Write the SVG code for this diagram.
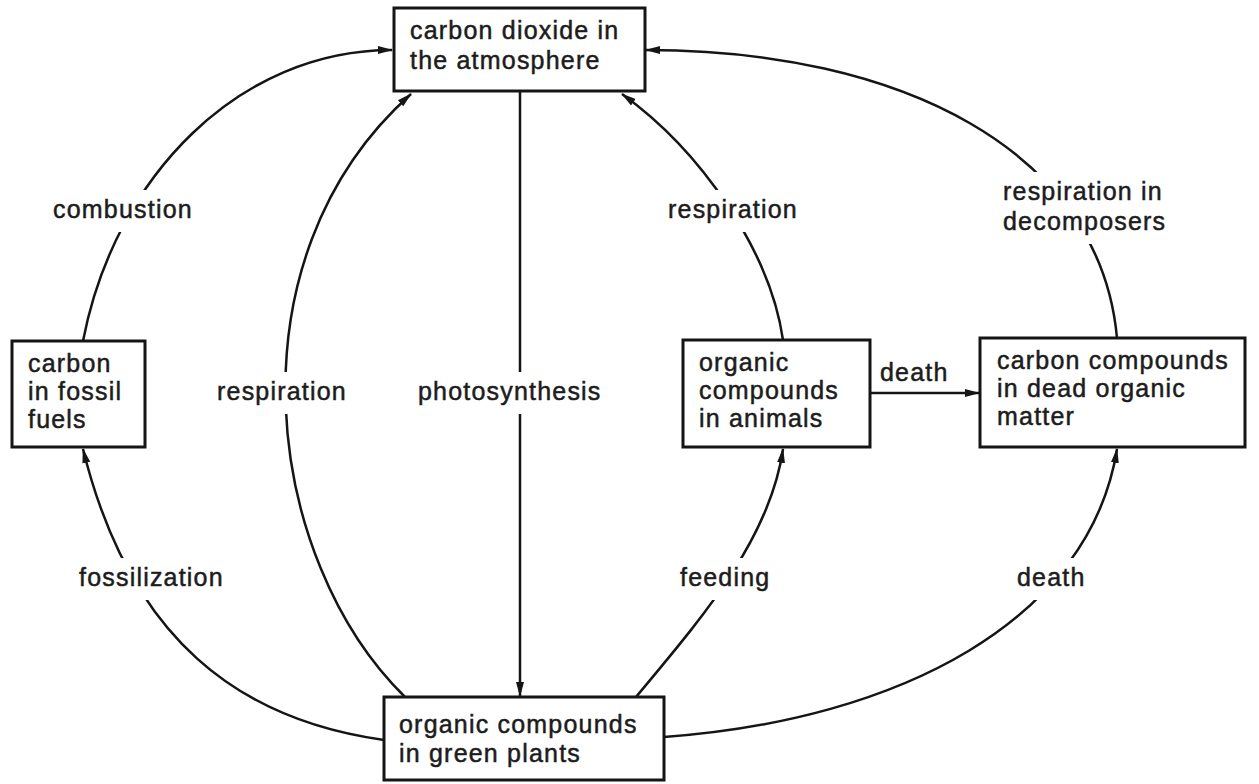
<svg xmlns="http://www.w3.org/2000/svg" width="1259" height="784" viewBox="0 0 1259 784">
<defs>
<marker id="ah" viewBox="0 0 15 10" refX="14" refY="5" markerWidth="15" markerHeight="10" markerUnits="userSpaceOnUse" orient="auto">
<path d="M0,1 L15,5 L0,9 Z" fill="#151515"/>
</marker>
<style>
.box{fill:#fff;stroke:#151515;stroke-width:3}
.t{font-family:"Liberation Sans",Arial,sans-serif;font-size:25px;letter-spacing:1.2px;fill:#1c1c1c;stroke:#1c1c1c;stroke-width:0.5}
.c{fill:none;stroke:#151515;stroke-width:2.5;marker-end:url(#ah)}
.bg{fill:#fff}
</style>
</defs>
<rect width="1259" height="784" fill="#fff"/>
<g id="connectors">
<path class="c" d="M83,341 C115,175 240,50 392,50"/>
<path class="c" d="M405,697 C265,560 225,260 411,94"/>
<path class="c" d="M520,91 L520,696"/>
<path class="c" d="M783,340 C770,250 700,150 622,94"/>
<path class="c" d="M1117,338 C1100,150 900,50 646,50"/>
<path class="c" d="M384,740 C240,720 130,640 83,449"/>
<path class="c" d="M636,697 C700,620 770,540 783,449"/>
<path class="c" d="M664,737 C900,720 1090,620 1117,449"/>
<path class="c" d="M870,393 L979,393"/>
</g>
<g id="labels">
<rect class="bg" x="48" y="190" width="158" height="42"/>
<text class="t" x="53" y="218">combustion</text>
<rect class="bg" x="212" y="372" width="142" height="42"/>
<text class="t" x="217" y="400">respiration</text>
<rect class="bg" x="413" y="372" width="206" height="42"/>
<text class="t" x="418" y="400">photosynthesis</text>
<rect class="bg" x="663" y="190" width="142" height="42"/>
<text class="t" x="668" y="218">respiration</text>
<rect class="bg" x="998" y="172" width="160" height="72"/>
<text class="t" x="1003" y="200">respiration in</text>
<text class="t" x="1003" y="230">decomposers</text>
<text class="t" x="880" y="381">death</text>
<rect class="bg" x="74" y="558" width="182" height="42"/>
<text class="t" x="79" y="586">fossilization</text>
<rect class="bg" x="675" y="558" width="103" height="42"/>
<text class="t" x="680" y="586">feeding</text>
<rect class="bg" x="1012" y="558" width="80" height="42"/>
<text class="t" x="1017" y="586">death</text>
</g>
<g id="atmosphere">
<rect class="box" x="394" y="8" width="251" height="83"/>
<text class="t" x="410" y="39">carbon dioxide in</text>
<text class="t" x="410" y="69">the atmosphere</text>
</g>
<g id="fossil">
<rect class="box" x="12" y="341" width="133" height="106"/>
<text class="t" x="28" y="372">carbon</text>
<text class="t" x="28" y="400">in fossil</text>
<text class="t" x="28" y="428">fuels</text>
</g>
<g id="animals">
<rect class="box" x="683" y="340" width="187" height="107"/>
<text class="t" x="699" y="371">organic</text>
<text class="t" x="699" y="399">compounds</text>
<text class="t" x="699" y="427">in animals</text>
</g>
<g id="dead">
<rect class="box" x="980" y="338" width="265" height="109"/>
<text class="t" x="997" y="369">carbon compounds</text>
<text class="t" x="997" y="397">in dead organic</text>
<text class="t" x="997" y="425">matter</text>
</g>
<g id="plants">
<rect class="box" x="384" y="697" width="280" height="83"/>
<text class="t" x="399" y="733">organic compounds</text>
<text class="t" x="399" y="762">in green plants</text>
</g>
</svg>
